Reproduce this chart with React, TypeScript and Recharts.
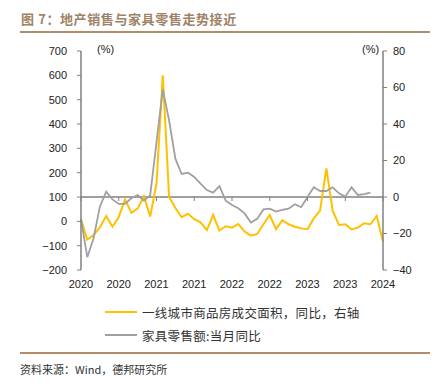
import { LineChart, Line, XAxis, YAxis, ReferenceLine } from 'recharts';

const months = [
  '2020-01', '2020-02', '2020-03', '2020-04', '2020-05', '2020-06', '2020-07', '2020-08', '2020-09', '2020-10', '2020-11', '2020-12',
  '2021-01', '2021-02', '2021-03', '2021-04', '2021-05', '2021-06', '2021-07', '2021-08', '2021-09', '2021-10', '2021-11', '2021-12',
  '2022-01', '2022-02', '2022-03', '2022-04', '2022-05', '2022-06', '2022-07', '2022-08', '2022-09', '2022-10', '2022-11', '2022-12',
  '2023-01', '2023-02', '2023-03', '2023-04', '2023-05', '2023-06', '2023-07', '2023-08', '2023-09', '2023-10', '2023-11', '2023-12',
  '2024-01',
];

// 一线城市商品房成交面积同比 (%)
const housingSales = [
  8, -75, -56, -25, 22, -22, 18, 90, 35, 52, 103, 20,
  155, 600, 101, 55, 17, 31, 9, -4, -36, 26, -38, -20,
  -26, -11, -42, -59, -52, -12, 26, -32, 5, -12, -22, -29,
  -32, 12, 44, 218, 44, -15, -12, -33, -26, -8, -12, 22,
  -84,
];

// 家具零售额当月同比 (%)
const furnitureRetail = [
  -12, -33, -22.6, -5.3, 2.9, -1.3, -3.8, -3.8, -0.7, 1.1, -2, 1,
  30, 59, 42, 21, 12.6, 13.3, 11, 7.3, 3.8, 2.4, 6, -2,
  -4.4, -6.2, -9, -14, -12, -6.8, -6.4, -8, -7.1, -6.4, -4, -5.6,
  0, 5.3, 3.3, 3.3, 5.3, 2, 0.2, 5.3, 1.1, 1.6, 2.4, null,
  null,
];

const leftTicks = [-200, -100, 0, 100, 200, 300, 400, 500, 600, 700];
const rightTicks = [-40, -20, 0, 20, 40, 60, 80];

const data = months.map((m, i) => ({
  month: m,
  sales: housingSales[i],
  retail: furnitureRetail[i],
}));

const PLOT_TOP = 51;
const PLOT_H = 219;
const ZERO_Y = PLOT_TOP + (PLOT_H * 80) / 120;

const NUM_FONT = '"Liberation Sans", Arial, sans-serif';
const CJK_FONT = '"Noto Sans CJK SC", "Noto Sans", sans-serif';
const AXIS = '#808080';

const fmt = (v: number) => (v < 0 ? '\u2212' + Math.abs(v) : String(v));

function MonthTick(props: any) {
  const { x, y, payload } = props;
  return (
    <g>
      <line x1={x} x2={x} y1={ZERO_Y} y2={ZERO_Y + 4} stroke={AXIS} strokeWidth={1} />
      <text x={x} y={y + 10} textAnchor="middle" fontSize={11} fill="#222" fontFamily={NUM_FONT}>
        {String(payload.value).slice(0, 4)}
      </text>
    </g>
  );
}

export default function App() {
  return (
    <div style={{ position: 'absolute', left: 0, top: 0, width: 439, height: 386, background: '#fff' }}>
      <div
        style={{
          position: 'absolute', left: 21, top: 9, fontSize: 13, fontWeight: 700,
          color: '#a08266', fontFamily: CJK_FONT, letterSpacing: 0.6, whiteSpace: 'nowrap',
        }}
      >
        图 7：地产销售与家具零售走势接近
      </div>
      <div style={{ position: 'absolute', left: 20, top: 31, width: 410, height: 2, background: '#b58c68' }} />

      <div style={{ position: 'absolute', left: 0, top: 0 }}>
        <LineChart width={439} height={300} data={data} margin={{ top: PLOT_TOP, right: 0, left: 0, bottom: 0 }}>
          <XAxis
            dataKey="month"
            height={30}
            axisLine={false}
            tickLine={false}
            tickSize={0}
            tickMargin={8}
            interval={5}
            tick={<MonthTick />}
          />
          <YAxis
            yAxisId="left"
            width={81}
            domain={[-200, 700]}
            ticks={leftTicks}
            tickFormatter={fmt}
            interval={0}
            axisLine={{ stroke: AXIS, strokeWidth: 1.5 }}
            tickLine={{ stroke: AXIS }}
            tickSize={4}
            tickMargin={10}
            tick={{ fontSize: 11, fill: '#222', fontFamily: NUM_FONT }}
          />
          <YAxis
            yAxisId="right"
            orientation="right"
            width={56}
            domain={[-40, 80]}
            ticks={rightTicks}
            tickFormatter={fmt}
            interval={0}
            axisLine={{ stroke: AXIS, strokeWidth: 1.5 }}
            tickLine={{ stroke: AXIS }}
            tickSize={4}
            tickMargin={6}
            tick={{ fontSize: 11, fill: '#222', fontFamily: NUM_FONT, textAnchor: 'start' }}
          />
          <ReferenceLine yAxisId="right" y={0} stroke={AXIS} strokeWidth={1.5} />
          <Line
            yAxisId="left"
            dataKey="sales"
            stroke="#ffc000"
            strokeWidth={2}
            dot={false}
            isAnimationActive={false}
          />
          <Line
            yAxisId="right"
            dataKey="retail"
            stroke="#a0a0a0"
            strokeWidth={1.8}
            dot={false}
            connectNulls={false}
            isAnimationActive={false}
          />
        </LineChart>
      </div>

      <div style={{ position: 'absolute', left: 97, top: 43, fontSize: 11, color: '#222', fontFamily: NUM_FONT }}>(%)</div>
      <div style={{ position: 'absolute', left: 362, top: 43, fontSize: 11, color: '#222', fontFamily: NUM_FONT }}>(%)</div>

      <div style={{ position: 'absolute', left: 105, top: 302, fontFamily: CJK_FONT, fontSize: 12.5, color: '#333' }}>
        <div style={{ display: 'flex', alignItems: 'center', height: 20 }}>
          <span style={{ display: 'inline-block', width: 32, height: 2, background: '#ffc000', marginRight: 5 }} />
          <span style={{ letterSpacing: 0.3, whiteSpace: 'nowrap' }}>一线城市商品房成交面积，同比，右轴</span>
        </div>
        <div style={{ display: 'flex', alignItems: 'center', height: 20, marginTop: 3 }}>
          <span style={{ display: 'inline-block', width: 32, height: 2, background: '#a0a0a0', marginRight: 5 }} />
          <span style={{ letterSpacing: 0.3, whiteSpace: 'nowrap' }}>家具零售额:当月同比</span>
        </div>
      </div>

      <div style={{ position: 'absolute', left: 20, top: 352, width: 410, height: 2, background: '#b58c68' }} />
      <div
        style={{
          position: 'absolute', left: 20, top: 361, fontSize: 11, color: '#333',
          fontFamily: CJK_FONT, whiteSpace: 'nowrap',
        }}
      >
        资料来源：Wind，德邦研究所
      </div>
    </div>
  );
}
